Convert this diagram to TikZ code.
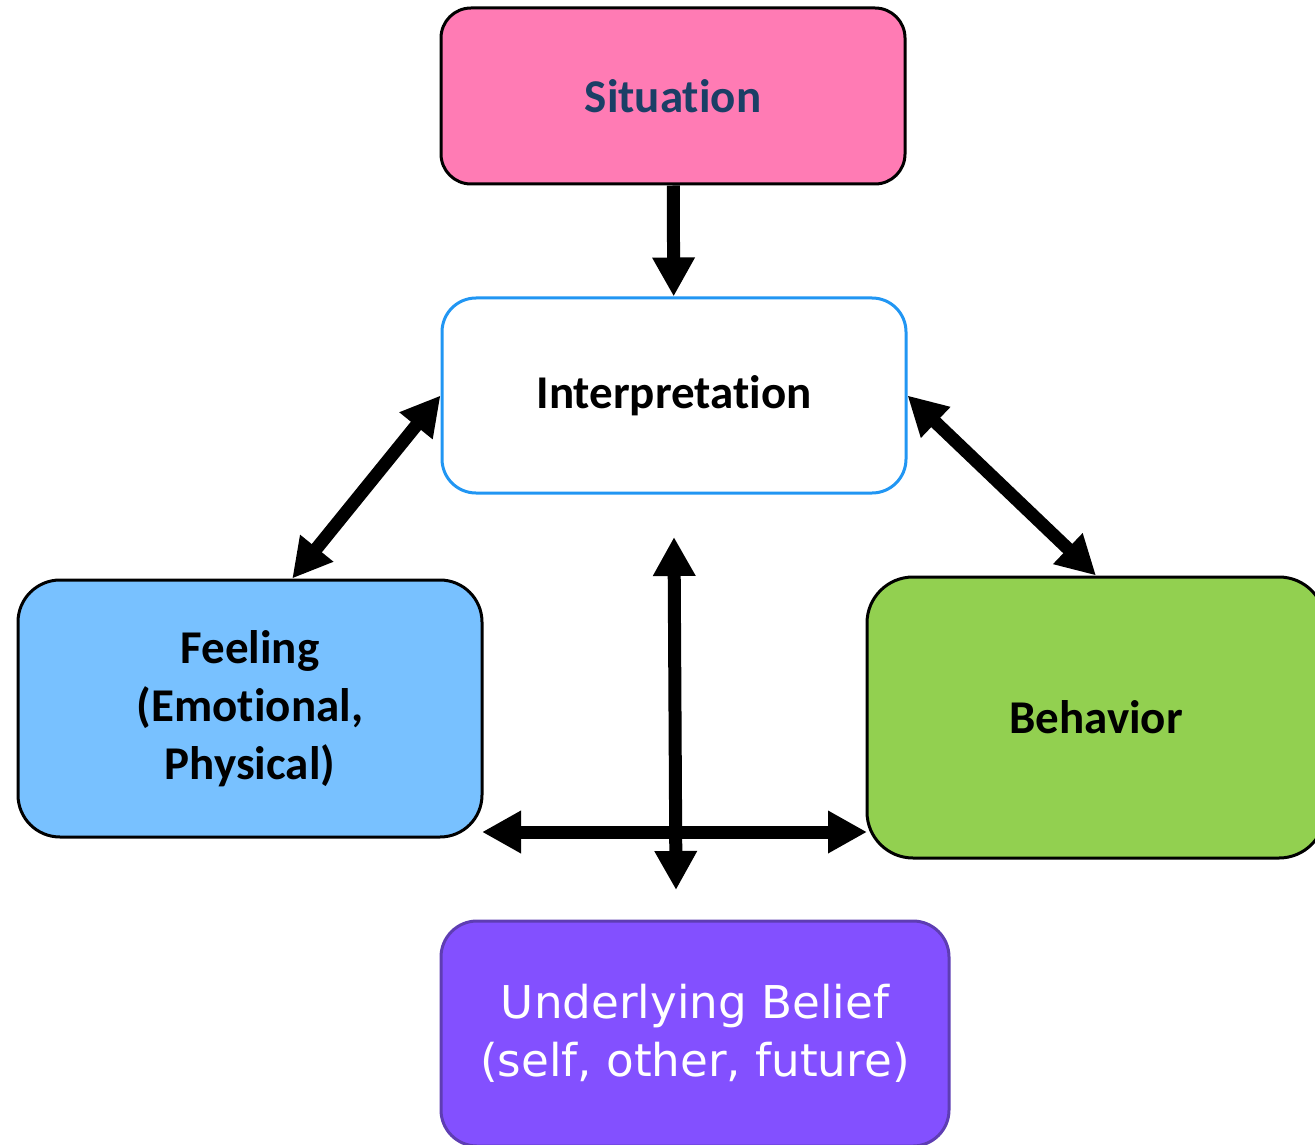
\documentclass[tikz,border=0pt]{standalone}
\usepackage{xcolor}
\usepackage{fontspec}
\setmainfont{Carlito}[Ligatures=NoCommon]
\newfontfamily\beliefsf{DejaVu Sans}
\usepackage{tikz}
\usetikzlibrary{arrows.meta}
\usetikzlibrary{shapes}
\definecolor{sitpink}{HTML}{FF7BB4}
\definecolor{sitnavy}{HTML}{1B3F66}
\definecolor{intblue}{HTML}{2196F3}
\definecolor{feelblue}{HTML}{78C1FF}
\definecolor{behgreen}{HTML}{92D050}
\definecolor{belpurple}{HTML}{8350FF}
\definecolor{beledge}{HTML}{5E3DB3}
\newcommand{\tinolig}{t\kern0pt i}% keep t and i apart
\tikzset{>={Triangle[length=19.5pt, width=20pt]}}
\tikzstyle{box} = [rectangle, draw=black, line width=1.5pt, align=center, inner sep=2, font=\fontsize{23.5}{29}\selectfont\bfseries]
\tikzstyle{link} = [line width=6.5pt, black]

\begin{document}
\begin{tikzpicture}[x=0.5pt, y=-0.5pt]
\useasboundingbox (0, 0) rectangle (1315, 1144);
\node [box, fill=sitpink, text=sitnavy, rounded corners=15pt, minimum width=232pt, minimum height=88pt] (S) at (673, 96) {Situa\tinolig on};
\node [box, draw=intblue, fill=white, rounded corners=17pt, minimum width=232pt, minimum height=97.5pt] (I) at (674, 395.5) {Interpreta\tinolig on};
\node [box, fill=feelblue, rounded corners=21pt, minimum width=232pt, minimum height=128.5pt] (F) at (250, 708.5) {Feeling\\(Emo\tinolig onal,\\Physical)};
\node [box, fill=behgreen, rounded corners=23pt, minimum width=229pt, minimum height=140.5pt] (B) at (1096, 717.5) {Behavior};
\node [box, draw=beledge, fill=belpurple, text=white, rounded corners=18pt, minimum width=254pt, minimum height=112.5pt, font=\fontsize{22.6}{29}\selectfont\beliefsf] (UB) at (695, 1033.5) {Underlying Belief\\(self, other, future)};
\coordinate (vtop) at (674, 537);
\coordinate (vbot) at (676, 890);
\coordinate (hleft) at (482, 832);
\coordinate (hright) at (867, 832);
\draw [->, link] (S) to (I);
\draw [<->, link] (I.west) to (F.72);
\draw [<->, link] (I.east) to (B.north);
\draw [<->, link] (vtop) to (vbot);
\draw [<->, link] (hleft) to (hright);
\end{tikzpicture}
\end{document}
